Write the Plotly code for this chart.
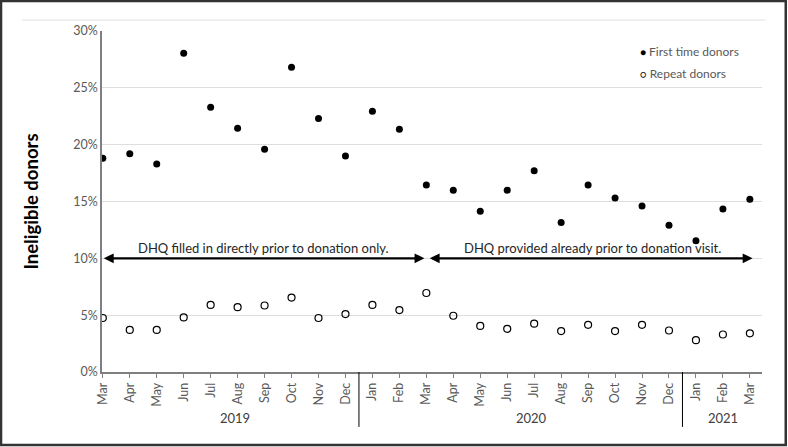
import plotly.graph_objects as go

months = ["Mar","Apr","May","Jun","Jul","Aug","Sep","Oct","Nov","Dec",
          "Jan","Feb","Mar","Apr","May","Jun","Jul","Aug","Sep","Oct","Nov","Dec",
          "Jan","Feb","Mar"]
first_time = [18.8,19.2,18.3,28.05,23.3,21.45,19.6,26.8,22.3,19.0,
              22.95,21.35,16.45,16.0,14.15,16.0,17.7,13.15,16.45,15.3,14.6,12.9,
              11.55,14.35,15.2]
repeat = [4.75,3.7,3.7,4.8,5.9,5.7,5.85,6.55,4.75,5.1,
          5.9,5.45,6.95,4.95,4.05,3.8,4.25,3.6,4.15,3.6,4.15,3.65,
          2.8,3.3,3.4]
series_names = ["First time donors", "Repeat donors"]
years = ["2019","2020","2021"]
year_centers = [4.9,15.9,23.0]
year_breaks = [9.5,21.5]
arrow_texts = ["DHQ filled in directly prior to donation only.",
               "DHQ provided already prior to donation visit."]

x = list(range(len(months)))
FONT = "Lato"
GREY = "#595959"

fig = go.Figure()
fig.add_trace(go.Scatter(x=x, y=first_time, mode="markers", name=series_names[0],
                         marker=dict(color="black", size=7, line=dict(width=0))))
fig.add_trace(go.Scatter(x=x, y=repeat, mode="markers", name=series_names[1],
                         marker=dict(color="black", size=7, symbol="circle-open",
                                     line=dict(color="black", width=1.2))))

ann = []
for yname, xc in zip(years, year_centers):
    ann.append(dict(x=xc, y=-0.106, xref="x", yref="paper", text=yname, showarrow=False,
                    yanchor="top", font=dict(family=FONT, size=13, color="#404040")))
# arrows
ann.append(dict(x=11.93, y=10, ax=-0.02, ay=10, xref="x", yref="y", axref="x", ayref="y",
                text="", showarrow=True, arrowhead=2, startarrowhead=2, arrowside="end+start",
                arrowwidth=2.2, arrowsize=0.9, startarrowsize=0.9, arrowcolor="black"))
ann.append(dict(x=24.1, y=10, ax=12.07, ay=10, xref="x", yref="y", axref="x", ayref="y",
                text="", showarrow=True, arrowhead=2, startarrowhead=2, arrowside="end+start",
                arrowwidth=2.2, arrowsize=0.9, startarrowsize=0.9, arrowcolor="black"))
ann.append(dict(x=5.95, y=10.05, xref="x", yref="y", text=arrow_texts[0], showarrow=False,
                yanchor="bottom", font=dict(family=FONT, size=13, color="#262626")))
ann.append(dict(x=18.15, y=10.05, xref="x", yref="y", text=arrow_texts[1], showarrow=False,
                yanchor="bottom", font=dict(family=FONT, size=13, color="#262626")))
# legend as text
ann.append(dict(x=0.812, y=0.939, xref="paper", yref="paper",
                text="<span style='color:black;font-size:10px'>●</span> " + series_names[0],
                showarrow=False, xanchor="left", yanchor="middle",
                font=dict(family=FONT, size=12, color=GREY)))
ann.append(dict(x=0.812, y=0.874, xref="paper", yref="paper",
                text="<span style='color:black;font-size:10px'>○</span> " + series_names[1],
                showarrow=False, xanchor="left", yanchor="middle",
                font=dict(family=FONT, size=12, color=GREY)))

shapes = []
for xb in year_breaks:
    shapes.append(dict(type="line", xref="x", yref="paper", x0=xb, x1=xb, y0=0, y1=-0.161,
                       line=dict(color="black", width=1)))
# top border line of chart area
shapes.append(dict(type="line", xref="paper", yref="paper", x0=-0.121, x1=1.005, y0=1.032, y1=1.032,
                   line=dict(color="#e0e0e0", width=1)))
# outer frame
shapes.append(dict(type="rect", xref="paper", yref="paper", x0=-0.153, x1=1.036, y0=-0.214, y1=1.088,
                   line=dict(color="#333333", width=2.5)))

fig.update_layout(
    width=788, height=447,
    margin=dict(l=102, r=26, t=31, b=75, autoexpand=False),
    paper_bgcolor="white", plot_bgcolor="white",
    font=dict(family=FONT, size=12, color=GREY),
    showlegend=False,
    annotations=ann, shapes=shapes,
)
fig.update_xaxes(range=[-0.03, 24.45], tickmode="array", tickvals=x, ticktext=months,
                 tickangle=-90, showgrid=False, zeroline=False, showline=True, automargin=False,
                 linecolor="#7f7f7f", linewidth=1.5, ticks="outside", ticklen=4,
                 tickcolor="#7f7f7f", tickfont=dict(family=FONT, size=12.5, color=GREY))
fig.update_yaxes(range=[0, 30], tickvals=[0,5,10,15,20,25,30],
                 ticktext=["0%","5%","10%","15%","20%","25%","30%"], automargin=False,
                 showgrid=True, gridcolor="#dedede", gridwidth=1, zeroline=False,
                 showline=True, linecolor="#7f7f7f", linewidth=1.5, ticks="",
                 tickfont=dict(family=FONT, size=12.5, color=GREY),
                 title=dict(text="<b>Ineligible donors</b>", standoff=30,
                            font=dict(family=FONT, size=18.5, color="black")))
fig.write_html("out.html", config={"displayModeBar": False},
               post_script="document.body.style.margin='0px';")
